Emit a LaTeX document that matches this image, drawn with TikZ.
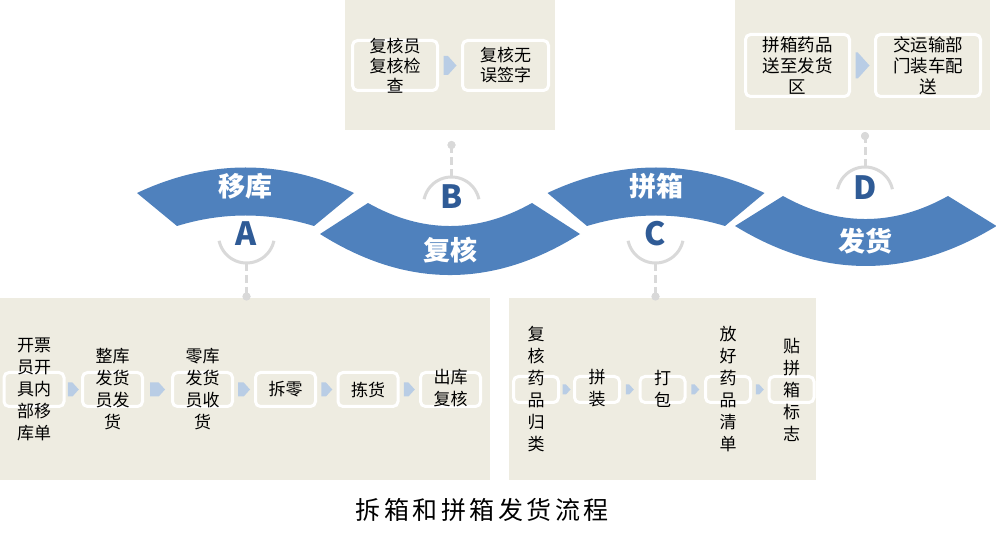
\documentclass[tikz,border=0pt]{standalone}
\usepackage{fontspec}
\newfontfamily\cjk{Noto Sans CJK SC}
\newfontfamily\cjkt[LetterSpace=14]{Noto Sans CJK SC}
\usetikzlibrary{calc}
\definecolor{bandblue}{HTML}{4F81BD}
\definecolor{panelc}{HTML}{EEECE1}
\definecolor{arrowc}{HTML}{B9CDE5}
\definecolor{greyc}{HTML}{D9D9D9}
\definecolor{letterc}{HTML}{2F5B96}
\newcommand\blockarrow[3]{%
  \fill[flowarrow, shift={#1}] ({-(#2)/2},{-(#3)/2}) -- ({(#2)/2-0.45*(#3)},{-(#3)/2}) -- ({(#2)/2},0)
    -- ({(#2)/2-0.45*(#3)},{(#3)/2}) -- ({-(#2)/2},{(#3)/2}) -- cycle;}
\begin{document}
\begin{tikzpicture}[x=1pt,y=-1pt,
  band/.style={fill=bandblue},
  panelbg/.style={fill=panelc},
  stepbox/.style={draw=white, line width=3pt, rounded corners=5pt, fill=panelc, inner sep=0pt},
  boxtext/.style={align=center, inner sep=0pt, font=\cjk\fontsize{17}{22}\selectfont, text=black},
  bandlabel/.style={font=\cjk\bfseries\fontsize{27}{30}\selectfont, text=white, inner sep=0pt},
  letter/.style={font=\cjk\bfseries\fontsize{32}{34}\selectfont, text=letterc, inner sep=0pt},
  ring/.style={draw=greyc, line width=3pt},
  leader/.style={draw=greyc, line width=3pt, dash pattern=on 8pt off 4pt},
  leaddot/.style={circle, fill=greyc, minimum size=8pt, inner sep=0pt},
  flowarrow/.style={fill=arrowc},
]
\useasboundingbox (0,0) rectangle (996,534);
\fill[white] (0,0) rectangle (996,534);

% ---------- panels ----------
\fill[panelbg] (0,298) rectangle (490,480);
\fill[panelbg] (509,298) rectangle (816,480);
\fill[panelbg] (345,0) rectangle (555,130);
\fill[panelbg] (735,0) rectangle (990,130);

% ---------- bands ----------
\fill[band] (137,193) .. controls (209.3,159) and (281.7,159) .. (354,193)
  -- (314,226) .. controls (268.3,212) and (222.7,212) .. (177,226) -- cycle;
\fill[band] (368,203) .. controls (422.7,233.7) and (477.3,233.7) .. (532,203)
  -- (580,234) .. controls (493.3,288.7) and (406.7,288.7) .. (320,234) -- cycle;
\fill[band] (547.5,193) .. controls (619.8,159) and (692.2,159) .. (764.5,193)
  -- (725,226) .. controls (678.8,212) and (633.2,212) .. (587,226) -- cycle;
\fill[band] (783,196) .. controls (838,226.7) and (893,226.7) .. (948,196)
  -- (996.5,226) .. controls (909.3,279.3) and (822.2,279.3) .. (735,226) -- cycle;

\node[bandlabel] (lA) at (245.5,186) {移库};
\node[bandlabel] (lB) at (450,250) {复核};
\node[bandlabel] (lC) at (656,186) {拼箱};
\node[bandlabel] (lD) at (865,241.5) {发货};

% ---------- letters and rings ----------
\node[letter] (A) at (246.5,234) {A};
\node[letter] (B) at (451.5,197) {B};
\node[letter] (C) at (655.5,234) {C};
\node[letter] (D) at (865,188) {D};

\draw[ring] plot[domain=12:168, samples=40] ({246.5+28*cos(\x)},{235+28*sin(\x)});
\draw[ring] plot[domain=12:168, samples=40] ({655.5+28*cos(\x)},{235+28*sin(\x)});
\draw[ring] plot[domain=-12:-168, samples=40] ({451.5+28*cos(\x)},{205+28*sin(\x)});
\draw[ring] plot[domain=-12:-168, samples=40] ({865+28*cos(\x)},{195+28*sin(\x)});

\coordinate (rA) at (246.5,263);
\coordinate (rC) at (655.5,263);
\coordinate (rB) at (451.5,177);
\coordinate (rD) at (865,167);
\node[leaddot] (dA) at (246.5,296.5) {};
\node[leaddot] (dC) at (655.5,296.5) {};
\node[leaddot] (dB) at (451.5,145) {};
\node[leaddot] (dD) at (865,136) {};
\draw[leader] (rA) -- (dA.center);
\draw[leader] (rC) -- (dC.center);
\draw[leader] (rB) -- (dB.center);
\draw[leader] (rD) -- (dD.center);
\node[leaddot] at (dA) {};
\node[leaddot] at (dC) {};
\node[leaddot] at (dB) {};
\node[leaddot] at (dD) {};

% ---------- panel A ----------
\node[stepbox, minimum width=60pt, minimum height=34pt] (a1) at (34,389.5) {};
\node[stepbox, minimum width=60pt, minimum height=34pt] (a2) at (112.5,389.5) {};
\node[stepbox, minimum width=60pt, minimum height=34pt] (a3) at (202.5,389.5) {};
\node[stepbox, minimum width=60pt, minimum height=34pt] (a4) at (285.5,389.5) {};
\node[stepbox, minimum width=60pt, minimum height=34pt] (a5) at (368,389.5) {};
\node[stepbox, minimum width=60pt, minimum height=34pt] (a6) at (450.5,389.5) {};
\node[boxtext] (a1t) at (a1) {开票\\员开\\具内\\部移\\库单};
\node[boxtext] (a2t) at (a2) {整库\\发货\\员发\\货};
\node[boxtext] (a3t) at (a3) {零库\\发货\\员收\\货};
\node[boxtext] (a4t) at (a4) {拆零};
\node[boxtext] (a5t) at (a5) {拣货};
\node[boxtext] (a6t) at ([yshift=1pt]a6.center) {出库\\复核};
\blockarrow{($(a1.east)!0.5!(a2.west)$)}{11}{14}
\blockarrow{($(a2.east)!0.5!(a3.west)$)}{15}{14}
\blockarrow{($(a3.east)!0.5!(a4.west)$)}{12}{14}
\blockarrow{($(a4.east)!0.5!(a5.west)$)}{11}{14}
\blockarrow{($(a5.east)!0.5!(a6.west)$)}{11}{14}

% ---------- panel C ----------
\node[stepbox, minimum width=45pt, minimum height=26pt] (c1) at (536,389.5) {};
\node[stepbox, minimum width=45pt, minimum height=26pt] (c2) at (597,389.5) {};
\node[stepbox, minimum width=45pt, minimum height=26pt] (c3) at (662.5,389.5) {};
\node[stepbox, minimum width=45pt, minimum height=26pt] (c4) at (728,389.5) {};
\node[stepbox, minimum width=45pt, minimum height=26pt] (c5) at (791.5,389.5) {};
\node[boxtext] (c1t) at (c1) {复\\核\\药\\品\\归\\类};
\node[boxtext] (c2t) at ([yshift=1pt]c2.center) {拼\\装};
\node[boxtext] (c3t) at ([yshift=1pt]c3.center) {打\\包};
\node[boxtext] (c4t) at (c4) {放\\好\\药\\品\\清\\单};
\node[boxtext] (c5t) at (c5) {贴\\拼\\箱\\标\\志};
\blockarrow{($(c1.east)!0.5!(c2.west)$)}{8}{10}
\blockarrow{($(c2.east)!0.5!(c3.west)$)}{8}{10}
\blockarrow{($(c3.east)!0.5!(c4.west)$)}{8}{10}
\blockarrow{($(c4.east)!0.5!(c5.west)$)}{8}{10}

% ---------- panel B ----------
\node[stepbox, minimum width=85pt, minimum height=50pt] (b1) at (395,65.5) {};
\node[stepbox, minimum width=86pt, minimum height=50pt] (b2) at (505.5,65.5) {};
\node[boxtext, font=\cjk\fontsize{17}{20}\selectfont] (b1t) at (b1) {复核员\\复核检\\查};
\node[boxtext, font=\cjk\fontsize{17}{20}\selectfont] (b2t) at (b2) {复核无\\误签字};
\blockarrow{($(b1.east)!0.5!(b2.west)$)}{13}{19}

% ---------- panel D ----------
\node[stepbox, minimum width=104pt, minimum height=62pt] (d1) at (797.5,65.5) {};
\node[stepbox, minimum width=105pt, minimum height=62pt] (d2) at (928,65.5) {};
\node[boxtext, font=\cjk\fontsize{17.5}{21}\selectfont] (d1t) at (d1) {拼箱药品\\送至发货\\区};
\node[boxtext, font=\cjk\fontsize{17.5}{21}\selectfont] (d2t) at (d2) {交运输部\\门装车配\\送};
\blockarrow{($(d1.east)!0.5!(d2.west)$)}{14}{26}

% ---------- title ----------
\node[inner sep=0pt, font=\cjkt\fontsize{25}{30}\selectfont] (title) at (482,510) {拆箱和拼箱发货流程};
\end{tikzpicture}
\end{document}
